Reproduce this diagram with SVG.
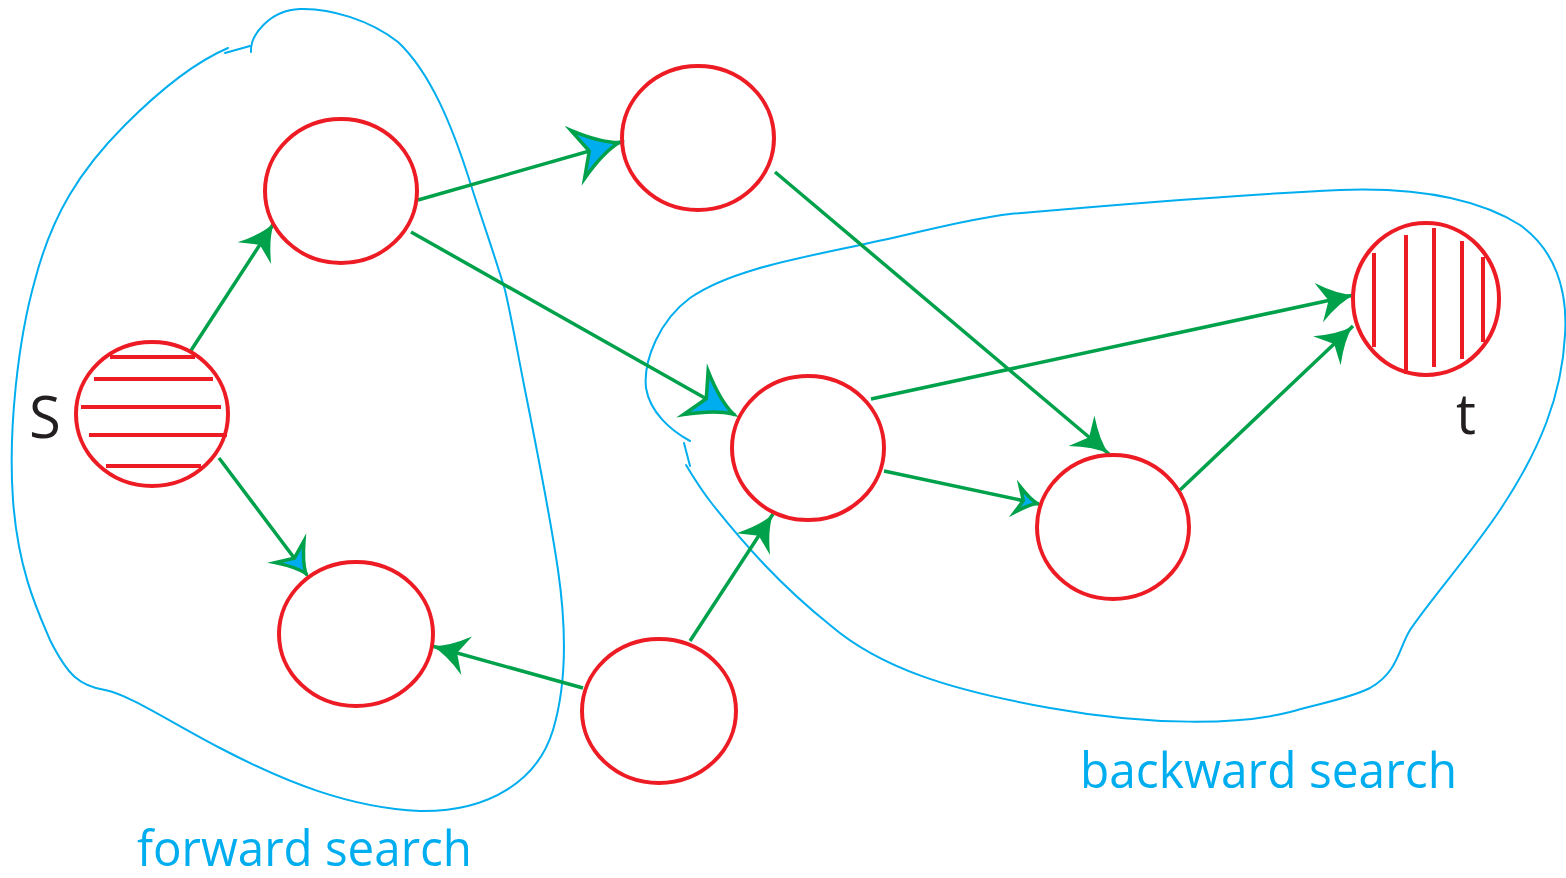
<svg xmlns="http://www.w3.org/2000/svg" width="1566" height="878" viewBox="0 0 1566 878">
  <style>
    .node { fill: none; stroke: #ed1c24; stroke-width: 4; }
    .hatch { stroke: #ed1c24; stroke-width: 4; }
    .edge { fill: none; stroke: #00a14b; stroke-width: 3.5; }
    .region { fill: none; stroke: #00aeef; stroke-width: 2; stroke-linecap: round; stroke-linejoin: round; }
    .label { font-family: "Open Sans", "Liberation Sans", sans-serif; fill: #231f20; }
    .region-label { font-family: "Open Sans", "Liberation Sans", sans-serif; fill: #00aeef; font-size: 50px; }
    .head-green { fill: #00a14b; stroke: none; }
    .head-blue { fill: #00aeef; stroke: #00a14b; stroke-width: 3.5; stroke-linejoin: miter; stroke-miterlimit: 12; }
  </style>
  <defs>
    <marker id="ah-green" markerUnits="userSpaceOnUse" orient="auto" refX="0" refY="0" markerWidth="80" markerHeight="80" overflow="visible">
      <path class="head-green" d="M0,0 Q-16,-4 -36,-20 L-26,0 L-36,20 Q-16,4 0,0 Z"/>
    </marker>
    <marker id="ah-blue-lg" markerUnits="userSpaceOnUse" orient="auto" refX="0" refY="0" markerWidth="80" markerHeight="80" overflow="visible">
      <path class="head-blue" d="M-2,0 Q-20,-5 -45,-25 L-33,0 L-45,25 Q-20,5 -2,0 Z"/>
    </marker>
    <marker id="ah-blue-md" markerUnits="userSpaceOnUse" orient="auto" refX="0" refY="0" markerWidth="80" markerHeight="80" overflow="visible">
      <path class="head-blue" d="M-2,0 Q-13,-4 -29,-18 L-21,0 L-29,18 Q-13,4 -2,0 Z"/>
    </marker>
    <marker id="ah-blue-sm" markerUnits="userSpaceOnUse" orient="auto" refX="0" refY="0" markerWidth="80" markerHeight="80" overflow="visible">
      <path class="head-blue" d="M-2,0 Q-10,-3 -22,-13 L-16,0 L-22,13 Q-10,3 -2,0 Z"/>
    </marker>
  </defs>

  <!-- search regions -->
  <g id="regions">
    <g id="forward-region">
      <path class="region" d="M251,52 C250,35 270,10 300,9 C330,8 370,20 398,42 C430,72 452,125 470,182 C482,220 493,250 505,290 C512,320 518,355 525,390 C535,440 550,515 558,570 C566,625 568,680 553,730 C538,780 490,812 420,811 C350,808 285,782 220,748 C170,722 130,695 105,690 C80,686 68,676 50,640 C38,612 18,570 13,500 C8,430 18,340 35,280 C52,215 80,170 125,125 C160,90 195,62 228,48"/>
      <path class="region" d="M225,53 L250,46"/>
    </g>
    <g id="backward-region">
      <path class="region" d="M690,441 C670,430 650,412 646,388 C643,360 660,320 690,298 C730,270 800,258 860,245 C920,233 960,220 1010,214 C1100,206 1250,194 1340,190 C1420,187 1480,200 1520,225 C1555,250 1568,290 1565,335 C1562,395 1540,450 1500,510 C1470,555 1430,600 1410,630 C1398,650 1398,672 1370,688 C1345,700 1320,703 1290,712 C1240,725 1150,726 1050,708 C950,690 880,668 830,625 C780,585 745,545 713,505 C705,495 695,480 686,465"/>
      <path class="region" d="M684,443 L690,466"/>
    </g>
  </g>

  <!-- edges -->
  <g id="connectors">
    <line class="edge" x1="190" y1="352" x2="274" y2="223" marker-end="url(#ah-green)"/>
    <line class="edge" x1="219" y1="458" x2="307" y2="575" marker-end="url(#ah-blue-md)"/>
    <line class="edge" x1="418" y1="200" x2="621" y2="142" marker-end="url(#ah-blue-lg)"/>
    <line class="edge" x1="411" y1="232" x2="735" y2="415" marker-end="url(#ah-blue-lg)"/>
    <line class="edge" x1="775" y1="172" x2="1109" y2="454" marker-end="url(#ah-green)"/>
    <line class="edge" x1="871" y1="399" x2="1354" y2="295" marker-end="url(#ah-green)"/>
    <line class="edge" x1="884" y1="471" x2="1039" y2="504" marker-end="url(#ah-blue-sm)"/>
    <line class="edge" x1="1180" y1="490" x2="1353" y2="326" marker-end="url(#ah-green)"/>
    <line class="edge" x1="690" y1="641" x2="773" y2="514" marker-end="url(#ah-green)"/>
    <line class="edge" x1="583" y1="688" x2="432" y2="646" marker-end="url(#ah-green)"/>
  </g>

  <!-- nodes -->
  <g id="node-s">
    <ellipse class="node" cx="152" cy="414" rx="76" ry="72"/>
    <line class="hatch" x1="110" y1="357" x2="195" y2="357"/>
    <line class="hatch" x1="94" y1="379" x2="213" y2="379"/>
    <line class="hatch" x1="81" y1="407" x2="221" y2="407"/>
    <line class="hatch" x1="89" y1="435" x2="227" y2="435"/>
    <line class="hatch" x1="106" y1="466" x2="201" y2="466"/>
    <text class="label" x="45" y="438" font-size="58" text-anchor="middle">S</text>
  </g>
  <g id="node-a">
    <ellipse class="node" cx="341" cy="191" rx="76" ry="72"/>
  </g>
  <g id="node-b">
    <ellipse class="node" cx="698" cy="138" rx="76" ry="72"/>
  </g>
  <g id="node-c">
    <ellipse class="node" cx="356" cy="634" rx="77" ry="72"/>
  </g>
  <g id="node-d">
    <ellipse class="node" cx="808" cy="448" rx="76" ry="72"/>
  </g>
  <g id="node-e">
    <ellipse class="node" cx="659" cy="711" rx="77" ry="72"/>
  </g>
  <g id="node-f">
    <ellipse class="node" cx="1113" cy="527" rx="76" ry="72"/>
  </g>
  <g id="node-t">
    <ellipse class="node" cx="1426" cy="299" rx="73" ry="76"/>
    <line class="hatch" x1="1374" y1="253" x2="1374" y2="347"/>
    <line class="hatch" x1="1406" y1="235" x2="1406" y2="374"/>
    <line class="hatch" x1="1434" y1="228" x2="1434" y2="367"/>
    <line class="hatch" x1="1462" y1="241" x2="1462" y2="359"/>
    <line class="hatch" x1="1483" y1="257" x2="1483" y2="342"/>
    <text class="label" x="1466" y="434" font-size="56" text-anchor="middle">t</text>
  </g>

  <!-- region captions -->
  <text class="region-label" x="137" y="866" textLength="335" lengthAdjust="spacingAndGlyphs">forward search</text>
  <text class="region-label" x="1080" y="788" textLength="377" lengthAdjust="spacingAndGlyphs">backward search</text>
</svg>
